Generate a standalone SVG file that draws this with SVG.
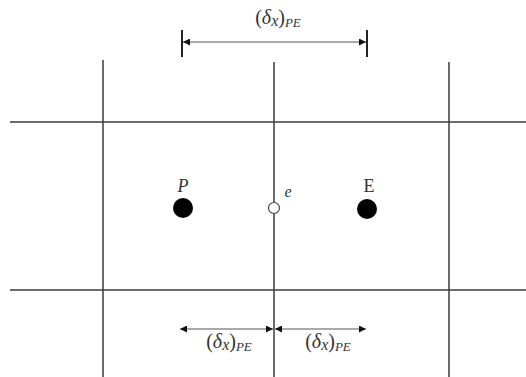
<svg xmlns="http://www.w3.org/2000/svg" width="526" height="377" viewBox="0 0 526 377">
<style>
.grid{stroke:#3a3a3a;stroke-width:1.5;fill:none}
.dim{stroke:#555;stroke-width:1;fill:none}
.tick{stroke:#222;stroke-width:2}
text{font-family:"Liberation Serif","DejaVu Serif",serif;fill:#333}
.lbl{font-size:20px}
.it{font-style:italic}
.sub{font-size:13px;font-style:italic}
</style>
<defs>
<marker id="ah" viewBox="0 0 10 10" refX="10" refY="5" markerWidth="7" markerHeight="7" orient="auto-start-reverse" markerUnits="userSpaceOnUse">
<path d="M0,0 L10,5 L0,10 z" fill="#111"/>
</marker>
</defs>
<rect width="526" height="377" fill="#fff"/>
<g id="connectors">
<line class="grid" x1="10" y1="122" x2="526" y2="122"/>
<line class="grid" x1="10" y1="290" x2="526" y2="290"/>
<line class="grid" x1="103" y1="60" x2="103" y2="377"/>
<line class="grid" x1="274" y1="62" x2="274" y2="377"/>
<line class="grid" x1="449" y1="62" x2="449" y2="377"/>
<line class="tick" x1="182" y1="30" x2="182" y2="57"/>
<line class="tick" x1="367" y1="30" x2="367" y2="57"/>
<line class="dim" x1="183" y1="42" x2="366" y2="42" marker-start="url(#ah)" marker-end="url(#ah)"/>
<line class="dim" x1="180" y1="329" x2="273" y2="329" marker-start="url(#ah)" marker-end="url(#ah)"/>
<line class="dim" x1="275" y1="329" x2="366" y2="329" marker-start="url(#ah)" marker-end="url(#ah)"/>
</g>
<g id="label-top"><text class="lbl" x="278" y="24" text-anchor="middle">(<tspan class="it">δ</tspan><tspan class="it" font-size="16" dy="2">x</tspan><tspan dy="-2">)</tspan><tspan class="sub" dy="3">PE</tspan></text></g>
<g id="node-P"><circle cx="183" cy="208" r="10" fill="#000"/><text class="it" font-size="18" x="183" y="192" text-anchor="middle">P</text></g>
<g id="node-e"><circle cx="274" cy="208" r="5.5" fill="#fff" stroke="#444" stroke-width="1.2"/><text class="it" font-size="16" x="288" y="197" text-anchor="middle">e</text></g>
<g id="node-E"><circle cx="367" cy="209" r="10" fill="#000"/><text font-size="18" x="369" y="192" text-anchor="middle">E</text></g>
<g id="label-left"><text class="lbl" x="229" y="348" text-anchor="middle">(<tspan class="it">δ</tspan><tspan class="it" font-size="16" dy="2">x</tspan><tspan dy="-2">)</tspan><tspan class="sub" dy="3">PE</tspan></text></g>
<g id="label-right"><text class="lbl" x="328" y="348" text-anchor="middle">(<tspan class="it">δ</tspan><tspan class="it" font-size="16" dy="2">x</tspan><tspan dy="-2">)</tspan><tspan class="sub" dy="3">PE</tspan></text></g>
</svg>
